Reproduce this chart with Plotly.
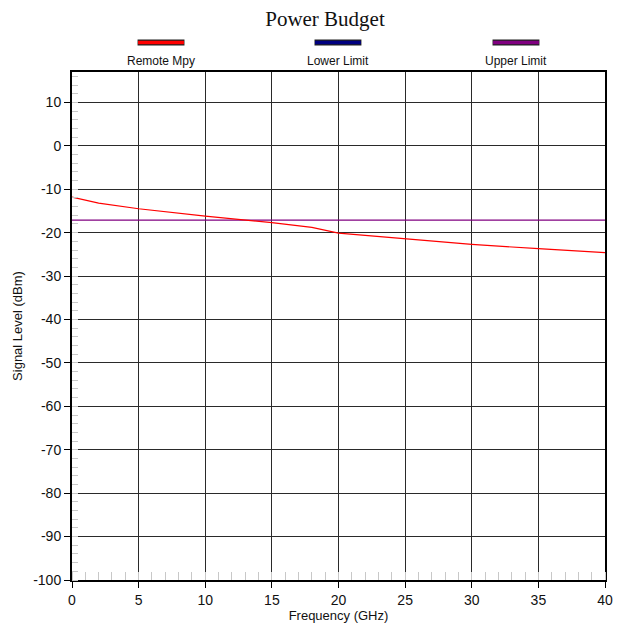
import plotly.graph_objects as go

# ---- data ----
series_names = ["Remote Mpy", "Lower Limit", "Upper Limit"]
series_colors = ["#ff0000", "#000080", "#800080"]

freq_remote = [0, 2, 5, 10, 15, 18, 20, 25, 30, 35, 40]
level_remote = [-11.8, -13.2, -14.5, -16.2, -17.7, -18.8, -20.1, -21.4, -22.7, -23.7, -24.6]

freq_lower = [0, 40]
level_lower = [-120, -120]   # below visible range

freq_upper = [0, 40]
level_upper = [-17.1, -17.1]

x_ticks = [0, 5, 10, 15, 20, 25, 30, 35, 40]
y_ticks = [10, 0, -10, -20, -30, -40, -50, -60, -70, -80, -90, -100]

fig = go.Figure()
fig.add_trace(go.Scatter(x=freq_lower, y=level_lower, mode="lines", name=series_names[1],
                         line=dict(color=series_colors[1], width=1.2)))
fig.add_trace(go.Scatter(x=freq_upper, y=level_upper, mode="lines", name=series_names[2],
                         line=dict(color=series_colors[2], width=1.2)))
fig.add_trace(go.Scatter(x=freq_remote, y=level_remote, mode="lines", name=series_names[0],
                         line=dict(color=series_colors[0], width=1.2)))

# custom legend: swatch above label
legend_centers = [0.167, 0.499, 0.833]
shapes = []
annotations = []
for name, color, cx in zip(series_names, series_colors, legend_centers):
    shapes.append(dict(type="line", xref="paper", yref="paper", x0=cx - 0.044, x1=cx + 0.044,
                       y0=1.058, y1=1.058, line=dict(color="#202020", width=6)))
    shapes.append(dict(type="line", xref="paper", yref="paper", x0=cx - 0.043, x1=cx + 0.043,
                       y0=1.058, y1=1.058, line=dict(color=color, width=3.5)))
    annotations.append(dict(text=name, xref="paper", yref="paper", x=cx, y=1.0215,
                            xanchor="center", yanchor="middle", showarrow=False,
                            font=dict(family="Liberation Sans, Arial", size=12, color="#111")))

fig.update_layout(
    width=618, height=629,
    margin=dict(l=72, r=13, t=72, b=49),
    paper_bgcolor="white", plot_bgcolor="white",
    showlegend=False,
    title=dict(text="Power Budget", x=325 / 618, xanchor="center", y=1 - 19 / 629, yanchor="middle",
               font=dict(family="Liberation Serif, Times New Roman", size=21, color="#111")),
    shapes=shapes, annotations=annotations,
    font=dict(family="Liberation Sans, Arial", size=13, color="#111"),
)

fig.update_xaxes(
    range=[0, 40], tickvals=x_ticks, ticktext=[str(v) for v in x_ticks],
    automargin=False,
    showgrid=True, gridcolor="#2a2a2a", gridwidth=1,
    showline=True, linecolor="black", linewidth=2, mirror=True,
    ticks="outside", ticklen=6, tickcolor="black", tickwidth=1,
    zeroline=False,
    minor=dict(dtick=1, ticks="inside", ticklen=8, tickcolor="#c8c8c8", showgrid=False),
    title=dict(text="Frequency (GHz)", font=dict(size=13), standoff=4),
    tickfont=dict(size=14),
)
fig.update_yaxes(
    range=[-100, 17], tickvals=y_ticks, ticktext=[str(v) for v in y_ticks],
    automargin=False,
    showgrid=True, gridcolor="#2a2a2a", gridwidth=1,
    showline=True, linecolor="black", linewidth=2, mirror=True,
    ticks="outside", ticklen=6, tickcolor="black", tickwidth=1,
    zeroline=False,
    minor=dict(dtick=2, tick0=0, ticks="inside", ticklen=6, tickcolor="#c8c8c8", showgrid=False),
    title=dict(text="Signal Level (dBm)", font=dict(size=13), standoff=8),
    tickfont=dict(size=14),
)

fig.write_html("out.html", config={"displayModeBar": False},
               post_script="document.body.style.margin='0';")
